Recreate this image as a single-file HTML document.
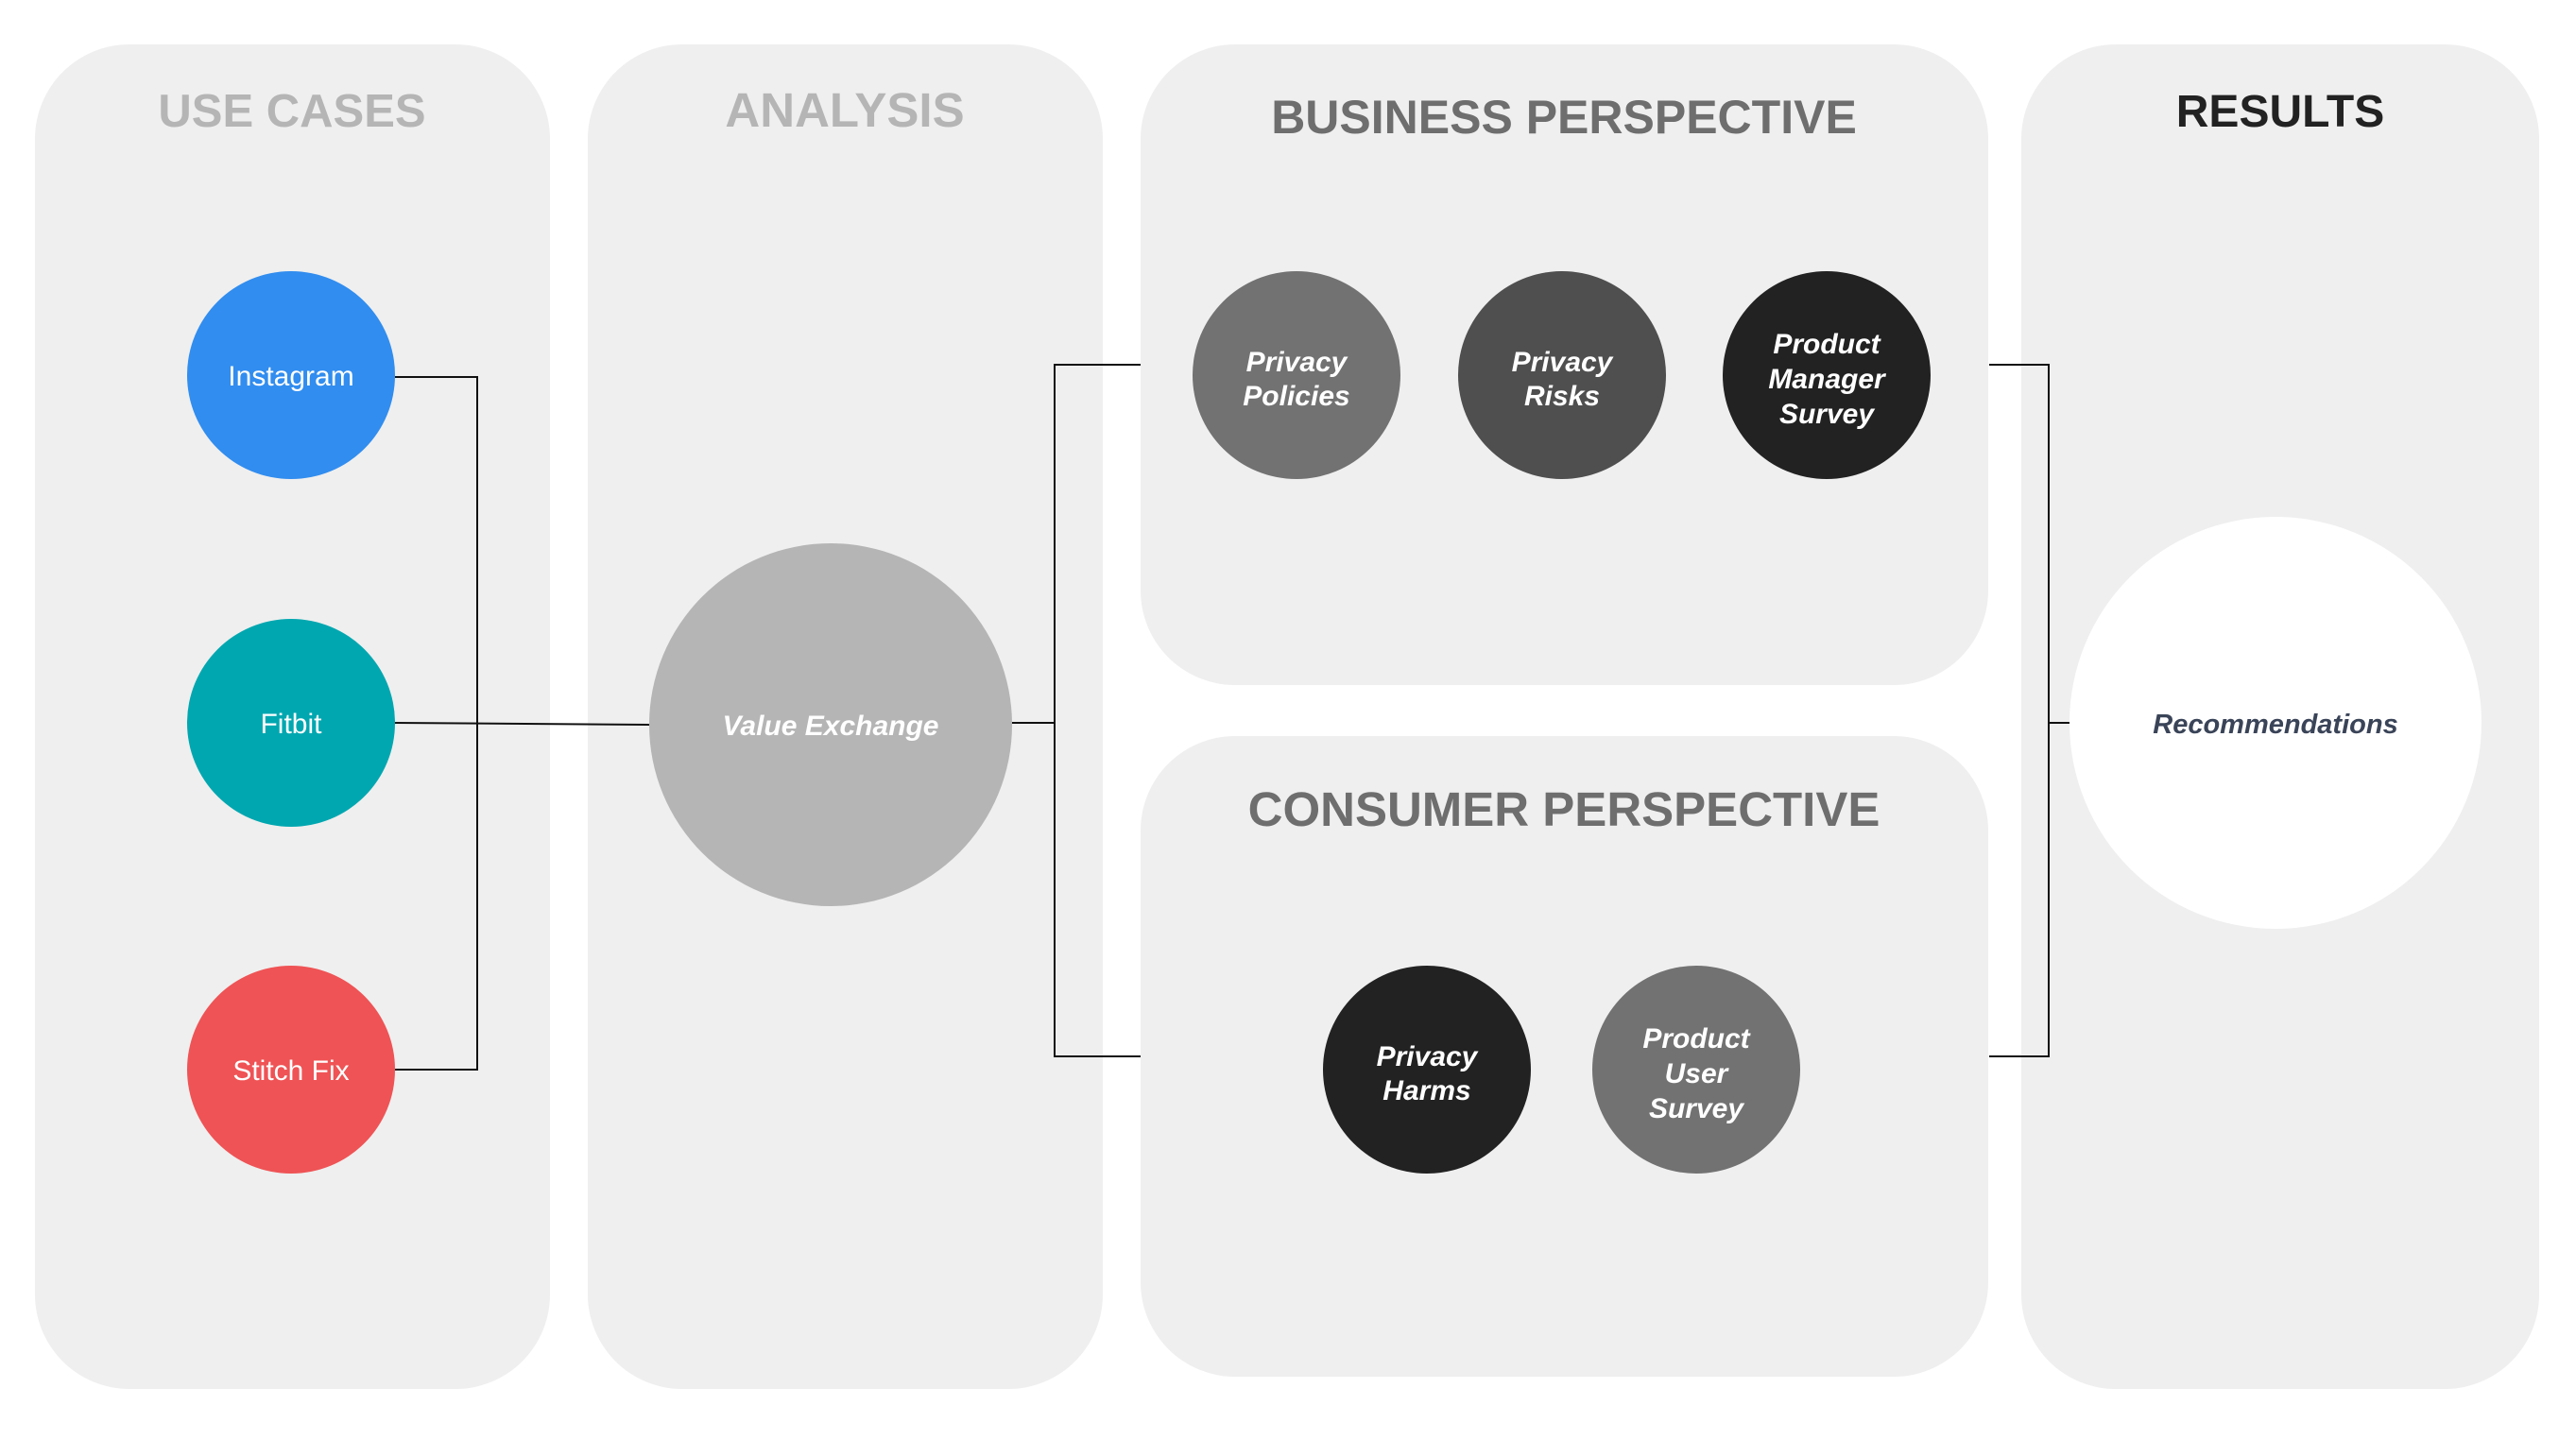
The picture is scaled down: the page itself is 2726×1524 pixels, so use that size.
<!DOCTYPE html>
<html><head><meta charset="utf-8"><style>
html,body{margin:0;padding:0;background:#fff;}
svg{display:block;}
text{font-family:"Liberation Sans",sans-serif;}
.t{font-weight:bold;text-anchor:middle;}
.w{fill:#fff;font-weight:bold;font-style:italic;font-size:30px;text-anchor:middle;}
.n{fill:#fff;font-size:30px;text-anchor:middle;}
</style></head><body>
<svg width="2726" height="1524" viewBox="0 0 2726 1524" xmlns="http://www.w3.org/2000/svg">
<rect width="2726" height="1524" fill="#fff"/>
<g fill="#efefef">
<rect x="37" y="47" width="545" height="1423" rx="100"/>
<rect x="622" y="47" width="545" height="1423" rx="100"/>
<rect x="1207" y="47" width="897" height="678" rx="100"/>
<rect x="1207" y="779" width="897" height="678" rx="100"/>
<rect x="2139" y="47" width="548" height="1423" rx="100"/>
</g>
<text class="t" x="309" y="134" font-size="49" fill="#b5b5b5">USE CASES</text>
<text class="t" x="894" y="134" font-size="51" fill="#b5b5b5">ANALYSIS</text>
<text class="t" x="1655" y="141" font-size="50" fill="#6e6e6e">BUSINESS PERSPECTIVE</text>
<text class="t" x="1655" y="874" font-size="51" fill="#6e6e6e">CONSUMER PERSPECTIVE</text>
<text class="t" x="2413" y="134" font-size="48" fill="#222">RESULTS</text>
<g stroke="#111" stroke-width="2" fill="none">
<polyline points="418,399 505,399 505,1132 418,1132"/>
<line x1="418" y1="765" x2="688" y2="767"/>
<polyline points="1071,765 1116,765"/>
<polyline points="1207,386 1116,386 1116,1118 1207,1118"/>
<polyline points="2105,386 2168,386 2168,1118 2105,1118"/>
<line x1="2168" y1="765" x2="2192" y2="765"/>
</g>
<circle cx="308" cy="397" r="110" fill="#318def"/>
<circle cx="308" cy="765" r="110" fill="#00a7b0"/>
<circle cx="308" cy="1132" r="110" fill="#ef5355"/>
<text class="n" x="308" y="408">Instagram</text>
<text class="n" x="308" y="776">Fitbit</text>
<text class="n" x="308" y="1143">Stitch Fix</text>
<circle cx="879" cy="767" r="192" fill="#b5b5b5"/>
<text class="w" x="879" y="778">Value Exchange</text>
<circle cx="1372" cy="397" r="110" fill="#727272"/>
<circle cx="1653" cy="397" r="110" fill="#4f4f4f"/>
<circle cx="1933" cy="397" r="110" fill="#222"/>
<text class="w" x="1372" y="393">Privacy</text><text class="w" x="1372" y="429">Policies</text>
<text class="w" x="1653" y="393">Privacy</text><text class="w" x="1653" y="429">Risks</text>
<text class="w" x="1933" y="374">Product</text><text class="w" x="1933" y="411">Manager</text><text class="w" x="1933" y="448">Survey</text>
<circle cx="1510" cy="1132" r="110" fill="#222"/>
<circle cx="1795" cy="1132" r="110" fill="#727272"/>
<text class="w" x="1510" y="1128">Privacy</text><text class="w" x="1510" y="1164">Harms</text>
<text class="w" x="1795" y="1109">Product</text><text class="w" x="1795" y="1146">User</text><text class="w" x="1795" y="1183">Survey</text>
<circle cx="2408" cy="765" r="218" fill="#fff"/>
<text x="2408" y="776" font-size="29" font-weight="bold" font-style="italic" fill="#3a4458" text-anchor="middle">Recommendations</text>
</svg>
</body></html>
